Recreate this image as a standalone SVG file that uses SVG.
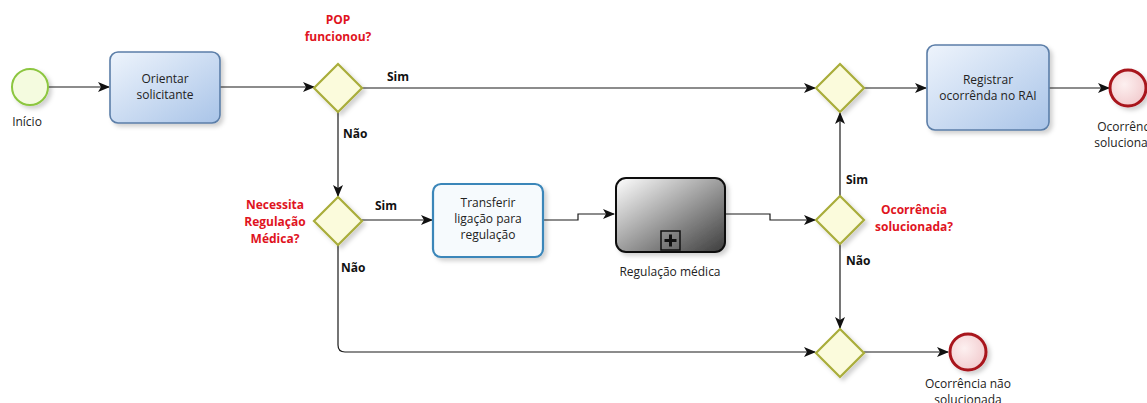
<svg xmlns="http://www.w3.org/2000/svg" width="1147" height="403" viewBox="0 0 1147 403">
<defs>
<style>
.lbl{font-family:"Open Sans","DejaVu Sans",sans-serif;font-size:12px;fill:#222;text-anchor:middle}
.q{font-family:"Open Sans","DejaVu Sans",sans-serif;font-size:12px;font-weight:bold;fill:#e0141e;text-anchor:middle}
.b{font-family:"Open Sans","DejaVu Sans",sans-serif;font-size:12px;font-weight:bold;fill:#111}
.gw{fill:#fbfbdc;stroke:#a9ad3a;stroke-width:2.2}
.task{fill:url(#gBlue);stroke:#5b7ea8;stroke-width:1.6}
.ln{fill:none;stroke:#1a1a1a;stroke-width:1.2;marker-end:url(#arr)}
</style>
<linearGradient id="gBlue" x1="0" y1="0" x2="1" y2="1">
<stop offset="0" stop-color="#eef4fc"/><stop offset="1" stop-color="#a9c4e8"/>
</linearGradient>
<linearGradient id="gGrey" x1="0" y1="0" x2="1" y2="1">
<stop offset="0" stop-color="#ffffff"/><stop offset="1" stop-color="#3c3c3c"/>
</linearGradient>
<radialGradient id="gRed" cx="0.4" cy="0.4" r="0.7">
<stop offset="0" stop-color="#fdf0f0"/><stop offset="1" stop-color="#f1c8cb"/>
</radialGradient>
<filter id="sh" x="-20%" y="-20%" width="150%" height="150%">
<feDropShadow dx="3" dy="3" stdDeviation="2" flood-color="#000" flood-opacity="0.18"/>
</filter>
<marker id="arr" viewBox="0 0 12 10" refX="11" refY="5" markerWidth="12" markerHeight="10" markerUnits="userSpaceOnUse" orient="auto">
<path d="M0,0 L12,5 L0,10 L3,5 Z" fill="#111"/>
</marker>
</defs>
<rect width="1147" height="403" fill="#fff"/>
<g id="connectors">
<line class="ln" x1="48" y1="87" x2="109" y2="87"/>
<line class="ln" x1="220" y1="87" x2="314" y2="87"/>
<line class="ln" x1="362" y1="88" x2="815" y2="88"/>
<line class="ln" x1="864" y1="88" x2="926" y2="88"/>
<line class="ln" x1="1049" y1="88" x2="1109" y2="88"/>
<line class="ln" x1="338" y1="112" x2="338" y2="196"/>
<line class="ln" x1="362" y1="220" x2="432" y2="220"/>
<path class="ln" d="M543,220 H578 V214 H614"/>
<path class="ln" d="M725,214 H770 V220 H815"/>
<line class="ln" x1="840" y1="196" x2="840" y2="113"/>
<line class="ln" x1="840" y1="244" x2="840" y2="328"/>
<path class="ln" d="M338,245 V345 Q338,352 345,352 H815"/>
<line class="ln" x1="864" y1="352" x2="948" y2="352"/>
<text class="b" x="387" y="81">Sim</text>
<text class="b" x="343" y="138">Não</text>
<text class="b" x="375" y="210">Sim</text>
<text class="b" x="341" y="272">Não</text>
<text class="b" x="846" y="184">Sim</text>
<text class="b" x="846" y="265">Não</text>
</g>
<g id="start">
<circle cx="30" cy="87" r="18" fill="#f4fbdf" stroke="#8cc63f" stroke-width="2" filter="url(#sh)"/>
<text class="lbl" x="27" y="126">Início</text>
</g>
<g id="orientar">
<rect class="task" x="110" y="52" width="110" height="71" rx="8" filter="url(#sh)"/>
<text class="lbl" x="165" y="83">Orientar</text>
<text class="lbl" x="165" y="99">solicitante</text>
</g>
<g id="gw-pop">
<polygon class="gw" points="338,64 362,88 338,112 314,88" filter="url(#sh)"/>
<text class="q" x="338" y="24">POP</text>
<text class="q" x="338" y="41">funcionou?</text>
</g>
<g id="gw-regulacao">
<polygon class="gw" points="338,197 362,221 338,245 314,221" filter="url(#sh)"/>
<text class="q" x="275" y="209">Necessita</text>
<text class="q" x="275" y="226">Regulação</text>
<text class="q" x="275" y="243">Médica?</text>
</g>
<g id="transferir">
<rect x="433" y="184" width="110" height="73" rx="8" fill="#f6fafd" stroke="#3a86b9" stroke-width="2.2" filter="url(#sh)"/>
<text class="lbl" x="488" y="207">Transferir</text>
<text class="lbl" x="488" y="223">ligação para</text>
<text class="lbl" x="488" y="239">regulação</text>
</g>
<g id="regulacao-medica">
<rect x="616" y="178" width="109" height="74" rx="10" fill="url(#gGrey)" stroke="#111" stroke-width="2" filter="url(#sh)"/>
<rect x="661" y="231" width="19" height="19" fill="none" stroke="#111" stroke-width="1.5"/>
<path d="M670.5,234.5 V246.5 M664.5,240.5 H676.5" stroke="#111" stroke-width="3"/>
<text class="lbl" x="670" y="276">Regulação médica</text>
</g>
<g id="gw-solucionada">
<polygon class="gw" points="840,196 864,220 840,244 816,220" filter="url(#sh)"/>
<text class="q" x="914" y="214">Ocorrência</text>
<text class="q" x="914" y="231">solucionada?</text>
</g>
<g id="gw-merge-top">
<polygon class="gw" points="840,64 864,88 840,112 816,88" filter="url(#sh)"/>
</g>
<g id="registrar">
<rect class="task" x="927" y="45" width="122" height="85" rx="8" filter="url(#sh)"/>
<text class="lbl" x="988" y="84">Registrar</text>
<text class="lbl" x="988" y="100">ocorrênda no RAI</text>
</g>
<g id="end-solucionada">
<circle cx="1128" cy="88" r="18" fill="url(#gRed)" stroke="#a8131c" stroke-width="3" filter="url(#sh)"/>
<text class="lbl" x="1128" y="131">Ocorrência</text>
<text class="lbl" x="1128" y="147">solucionada</text>
</g>
<g id="gw-merge-bottom">
<polygon class="gw" points="840,329 864,353 840,377 816,353" filter="url(#sh)"/>
</g>
<g id="end-nao-solucionada">
<circle cx="968" cy="352" r="18" fill="url(#gRed)" stroke="#a8131c" stroke-width="3" filter="url(#sh)"/>
<text class="lbl" x="968" y="388">Ocorrência não</text>
<text class="lbl" x="968" y="404">solucionada</text>
</g>
</svg>
